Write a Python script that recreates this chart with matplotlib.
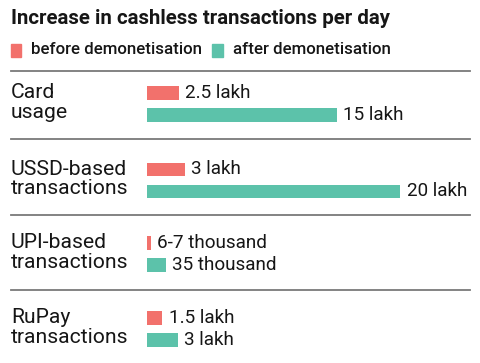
import matplotlib
matplotlib.use('Agg')
import matplotlib.pyplot as plt
from matplotlib.patches import Rectangle

# values in lakh (1 lakh = 100 thousand)
categories = ['Card\nusage', 'USSD-based\ntransactions', 'UPI-based\ntransactions', 'RuPay\ntransactions']
before = [2.5, 3, 0.065, 1.5]
after = [15, 20, 0.35, 3]
before_labels = ['2.5 lakh', '3 lakh', '6-7 thousand', '1.5 lakh']
after_labels = ['15 lakh', '20 lakh', '35 thousand', '3 lakh']
# each panel in the original graphic is drawn with its own scale
panel_xmax = [25.5, 25.5, 5.95, 31.3]

RED = '#f2716c'
TEAL = '#5cc2aa'
GRID = '#7a7a7a'
INK = '#161616'
FONT = 'Roboto'

W, H = 480, 363
fig = plt.figure(figsize=(W / 100, H / 100), dpi=100)
fig.patch.set_facecolor('white')


def fx(px):
    return px / W


def fy(py):
    return 1 - py / H


fig.text(fx(11), fy(19), 'Increase in cashless transactions per day', fontsize=14.7,
         fontweight='bold', family=FONT, color=INK, va='center', ha='left')

# legend
for x0, w, color, label in [(11, 10, RED, 'before demonetisation'),
                            (212, 11, TEAL, 'after demonetisation')]:
    fig.patches.append(Rectangle((fx(x0), fy(57)), fx(w), 13 / H, color=color,
                                 transform=fig.transFigure, figure=fig))
    fig.text(fx(x0 + w + 10), fy(50), label, fontsize=12.2, family=FONT,
             fontweight='medium', color=INK, va='center', ha='left')

# separators
for py in [71, 139, 215, 290]:
    fig.add_artist(plt.Line2D([fx(11), fx(470)], [fy(py), fy(py)], color=GRID, lw=1.3))

# panels: centers of the first bar
first_centers = [93, 169.5, 243, 318]
gap = 22
for i, cat in enumerate(categories):
    top = first_centers[i] - gap / 2
    ax = fig.add_axes([fx(147), fy(top + 2 * gap), fx(323), 2 * gap / H])
    ax.barh([0, 1], [before[i], after[i]], height=0.6, color=[RED, TEAL])
    ax.set_xlim(0, panel_xmax[i])
    ax.set_ylim(1.5, -0.5)
    ax.axis('off')
    for y, v, lab in [(0, before[i], before_labels[i]), (1, after[i], after_labels[i])]:
        ax.annotate(lab, (v, y), xytext=(4.5, 0), textcoords='offset points',
                    fontsize=13.6, family=FONT, color=INK, va='center', ha='left')
    fig.text(fx(11), fy(top + gap - 1.5), cat, fontsize=15.2, family=FONT, color=INK,
             va='center', ha='left', linespacing=1.05)

fig.savefig('out.png', dpi=100)
